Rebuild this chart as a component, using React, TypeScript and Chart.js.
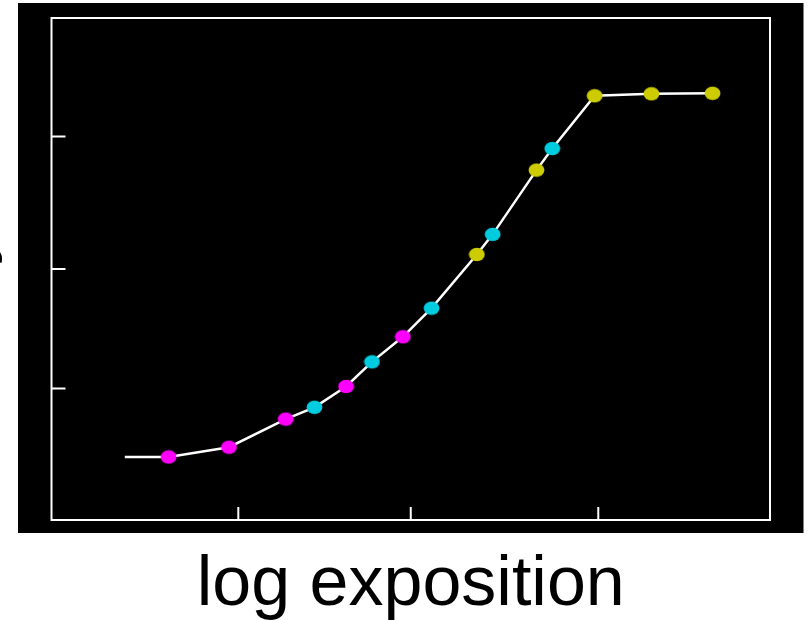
import React, { useEffect, useRef } from "react";
import { Chart, registerables } from "chart.js";

Chart.register(...registerables);

// Curve (white polyline) vertices, in axis units (0–100 on both axes)
const curveX = [10.2, 16.3, 24.7, 32.6, 36.6, 41.0, 44.6, 48.9, 52.9, 59.2, 61.4, 67.5, 69.7, 75.6, 83.5, 92.0];
const curveY = [12.55, 12.55, 14.5, 20.1, 22.45, 26.6, 31.5, 36.5, 42.2, 52.9, 56.9, 69.7, 74.0, 84.5, 84.9, 85.0];

// Marker groups
const magentaX = [16.3, 24.7, 32.6, 41.0, 48.9];
const magentaY = [12.55, 14.5, 20.1, 26.6, 36.5];
const cyanX = [36.6, 44.6, 52.9, 61.4, 69.7];
const cyanY = [22.45, 31.5, 42.2, 56.9, 74.0];
const yellowX = [59.2, 67.5, 75.6, 83.5, 92.0];
const yellowY = [52.9, 69.7, 84.5, 84.9, 85.0];

// Tick positions (unlabelled)
const xTicks = [26.0, 50.0, 76.1];
const yTicks = [26.2, 50.0, 76.4];

const xTitle = "log exposition";
const yTitle = "density";

const COLORS = {
  magenta: "#ff00ff",
  cyan: "#00cce0",
  yellow: "#cccc00",
};

function ellipse(color: string): HTMLCanvasElement {
  const c = document.createElement("canvas");
  c.width = 17;
  c.height = 15;
  const g = c.getContext("2d")!;
  g.fillStyle = color;
  g.beginPath();
  g.ellipse(8.5, 7.5, 7.9, 6.7, 0, 0, Math.PI * 2);
  g.fill();
  return c;
}

const zip = (xs: number[], ys: number[]) => xs.map((x, i) => ({ x, y: ys[i] }));

const framePlugin = {
  id: "frame",
  beforeDraw(chart: any) {
    const { ctx, chartArea } = chart;
    ctx.save();
    ctx.fillStyle = "#ffffff";
    ctx.fillRect(0, 0, chart.width, chart.height);
    ctx.fillStyle = "#000000";
    ctx.fillRect(chartArea.left - 33.5, chartArea.top - 15, chartArea.right - chartArea.left + 67, chartArea.bottom - chartArea.top + 28);
    ctx.restore();
  },
  beforeDatasetsDraw(chart: any) {
    const { ctx, chartArea, scales } = chart;
    const { left, right, top, bottom } = chartArea;
    ctx.save();
    ctx.strokeStyle = "#ffffff";
    ctx.lineWidth = 2;
    ctx.strokeRect(left, top, right - left, bottom - top);
    ctx.beginPath();
    for (const v of xTicks) {
      const px = scales.x.getPixelForValue(v);
      ctx.moveTo(px, bottom);
      ctx.lineTo(px, bottom - 13);
    }
    for (const v of yTicks) {
      const py = scales.y.getPixelForValue(v);
      ctx.moveTo(left, py);
      ctx.lineTo(left + 14, py);
    }
    ctx.stroke();
    ctx.restore();
  },
  afterDraw(chart: any) {
    const { ctx, chartArea } = chart;
    ctx.save();
    ctx.fillStyle = "#000000";
    ctx.font = '70px "Liberation Sans", Arial, sans-serif';
    ctx.textAlign = "center";
    ctx.textBaseline = "alphabetic";
    ctx.fillText(xTitle, (chartArea.left + chartArea.right) / 2, 605);
    // y title, almost entirely outside the page
    ctx.translate(-13, 230);
    ctx.rotate(-Math.PI / 2);
    ctx.textAlign = "right";
    ctx.fillText(yTitle, 0, 0);
    ctx.restore();
  },
};

export default function App() {
  const ref = useRef<HTMLCanvasElement>(null);
  useEffect(() => {
    const chart = new Chart(ref.current!, {
      type: "scatter",
      data: {
        datasets: [
          {
            type: "scatter",
            data: zip(magentaX, magentaY),
            pointStyle: ellipse(COLORS.magenta) as any,
            order: 0,
          },
          {
            type: "scatter",
            data: zip(cyanX, cyanY),
            pointStyle: ellipse(COLORS.cyan) as any,
            order: 0,
          },
          {
            type: "scatter",
            data: zip(yellowX, yellowY),
            pointStyle: ellipse(COLORS.yellow) as any,
            order: 0,
          },
          {
            type: "line",
            data: zip(curveX, curveY),
            borderColor: "#ffffff",
            borderWidth: 2.5,
            pointRadius: 0,
            tension: 0,
            order: 5,
          } as any,
        ],
      },
      options: {
        animation: false,
        responsive: false,
        devicePixelRatio: 1,
        layout: { padding: { left: 51.5, top: 18, right: 40, bottom: 100 } },
        plugins: { legend: { display: false }, tooltip: { enabled: false } },
        scales: {
          x: { type: "linear", min: 0, max: 100, display: false },
          y: { type: "linear", min: 0, max: 100, display: false },
        },
      },
      plugins: [framePlugin],
    });
    return () => chart.destroy();
  }, []);
  return (
    <div style={{ position: "absolute", left: 0, top: 0, width: 810, height: 620 }}>
      <canvas ref={ref} width={810} height={620} style={{ display: "block" }} />
    </div>
  );
}
